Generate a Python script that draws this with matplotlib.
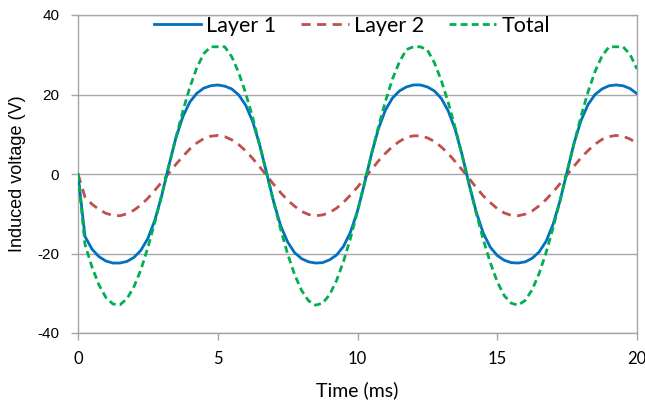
import matplotlib
matplotlib.use("Agg")
import matplotlib.pyplot as plt
from matplotlib.lines import Line2D

time_ms = [i * 0.25 for i in range(81)]

layer1 = [0.0, -15.7, -18.9, -20.8, -21.9, -22.4, -22.4, -22.0, -21.0, -19.2,
          -16.2, -11.6, -5.3, 2.1, 9.0, 14.4, 18.1, 20.3, 21.6, 22.2,
          22.4, 22.1, 21.4, 19.9, 17.3, 13.2, 7.3, 0.2, -7.0, -13.0,
          -17.1, -19.8, -21.3, -22.1, -22.4, -22.3, -21.6, -20.4, -18.2, -14.6,
          -9.3, -2.4, 5.0, 11.4, 16.1, 19.1, 20.9, 21.9, 22.4, 22.4,
          21.9, 20.9, 19.0, 15.8, 11.1, 4.6, -2.8, -9.6, -14.9, -18.4,
          -20.5, -21.7, -22.3, -22.4, -22.1, -21.2, -19.6, -16.9, -12.6, -6.6,
          0.6, 7.8, 13.5, 17.5, 20.0, 21.4, 22.2, 22.4, 22.2, 21.5,
          20.2]

layer2 = [0.0, -5.8, -7.6, -8.9, -9.9, -10.4, -10.5, -10.0, -9.1, -7.8,
          -6.1, -4.1, -2.0, 0.2, 2.4, 4.4, 6.3, 7.8, 8.9, 9.5,
          9.7, 9.4, 8.6, 7.4, 5.8, 3.9, 1.8, -0.4, -2.6, -4.7,
          -6.6, -8.1, -9.4, -10.2, -10.5, -10.3, -9.7, -8.6, -7.1, -5.3,
          -3.3, -1.1, 1.1, 3.3, 5.2, 6.9, 8.2, 9.2, 9.6, 9.6,
          9.1, 8.2, 6.8, 5.1, 3.1, 1.0, -1.2, -3.4, -5.5, -7.2,
          -8.7, -9.8, -10.4, -10.5, -10.1, -9.3, -8.0, -6.4, -4.5, -2.4,
          -0.2, 2.0, 4.1, 5.9, 7.5, 8.7, 9.4, 9.7, 9.5, 8.8,
          7.7]

total = [0.0, -17.7, -23.4, -27.9, -31.1, -32.7, -32.9, -31.4, -28.4, -24.1,
         -18.5, -12.1, -5.2, 2.0, 9.1, 15.8, 21.8, 26.7, 30.3, 32.0,
         32.0, 32.0, 29.5, 25.5, 20.3, 14.2, 7.3, 0.2, -7.0, -13.9,
         -20.1, -25.3, -29.3, -31.9, -33.0, -32.5, -30.4, -26.8, -22.0, -16.1,
         -9.4, -2.3, 5.0, 11.9, 18.3, 23.9, 28.2, 31.3, 32.0, 32.0,
         31.2, 28.0, 23.5, 17.9, 11.5, 4.5, -2.8, -9.9, -16.5, -22.3,
         -27.1, -30.6, -32.5, -33.0, -31.8, -29.1, -25.0, -19.7, -13.5, -6.6,
         0.6, 7.8, 14.6, 20.7, 25.8, 29.7, 32.0, 32.0, 32.0, 30.1,
         26.4]

series_names = ["Layer 1", "Layer 2", "Total"]
x_ticks = [0, 5, 10, 15, 20]
y_ticks = [-40, -20, 0, 20, 40]

calibri_like = ["Lato", "DejaVu Sans"]
arial_like = ["Liberation Sans", "DejaVu Sans"]

fig = plt.figure(figsize=(6.45, 4.07), dpi=100)
ax = fig.add_axes([78 / 645, 1 - 333 / 407, (637 - 78) / 645, (333 - 15) / 407])

grid_c = "#A6A6A6"
for y in y_ticks:
    ax.axhline(y, color=grid_c, lw=1.0, zorder=0)

blue = "#0070C0"
red = "#C0504D"
green = "#00B050"
red_dash = (3.3, 2.3)
green_dash = (2.5, 1.5)

ax.plot(time_ms, layer1, color=blue, lw=2.0, solid_capstyle="round",
        solid_joinstyle="round", zorder=3)
ax.plot(time_ms, layer2, color=red, lw=2.0, dashes=red_dash, zorder=2)
ax.plot(time_ms, total, color=green, lw=2.0, dashes=green_dash, zorder=4)

ax.set_xlim(0, 20)
ax.set_ylim(-40, 40)
ax.set_xticks(x_ticks)
ax.set_yticks(y_ticks)
ax.set_xticklabels([str(v) for v in x_ticks], fontfamily=calibri_like, fontsize=12)
ax.set_yticklabels([str(v) for v in y_ticks], fontfamily=arial_like, fontsize=11)
ax.tick_params(axis="both", direction="out", length=5, width=1, color=grid_c)
ax.tick_params(axis="x", pad=8)
ax.tick_params(axis="y", pad=8.5)

for s in ax.spines.values():
    s.set_color(grid_c)
    s.set_linewidth(1.0)

ax.set_xlabel("Time (ms)", fontfamily=calibri_like, fontsize=14, labelpad=10)
ax.set_ylabel("Induced voltage (V)", fontfamily=arial_like, fontsize=13, labelpad=8)

handles = [Line2D([], [], color=blue, lw=2.0),
           Line2D([], [], color=red, lw=2.0, dashes=red_dash),
           Line2D([], [], color=green, lw=2.0, dashes=green_dash)]
leg = ax.legend(handles, series_names, loc="upper center", bbox_to_anchor=(0.49, 1.045),
                ncol=3, frameon=False, handlelength=2.2, handletextpad=0.25,
                columnspacing=1.15, borderpad=0.2,
                prop={"family": calibri_like, "size": 15.5})

fig.savefig("out.png", dpi=100)
